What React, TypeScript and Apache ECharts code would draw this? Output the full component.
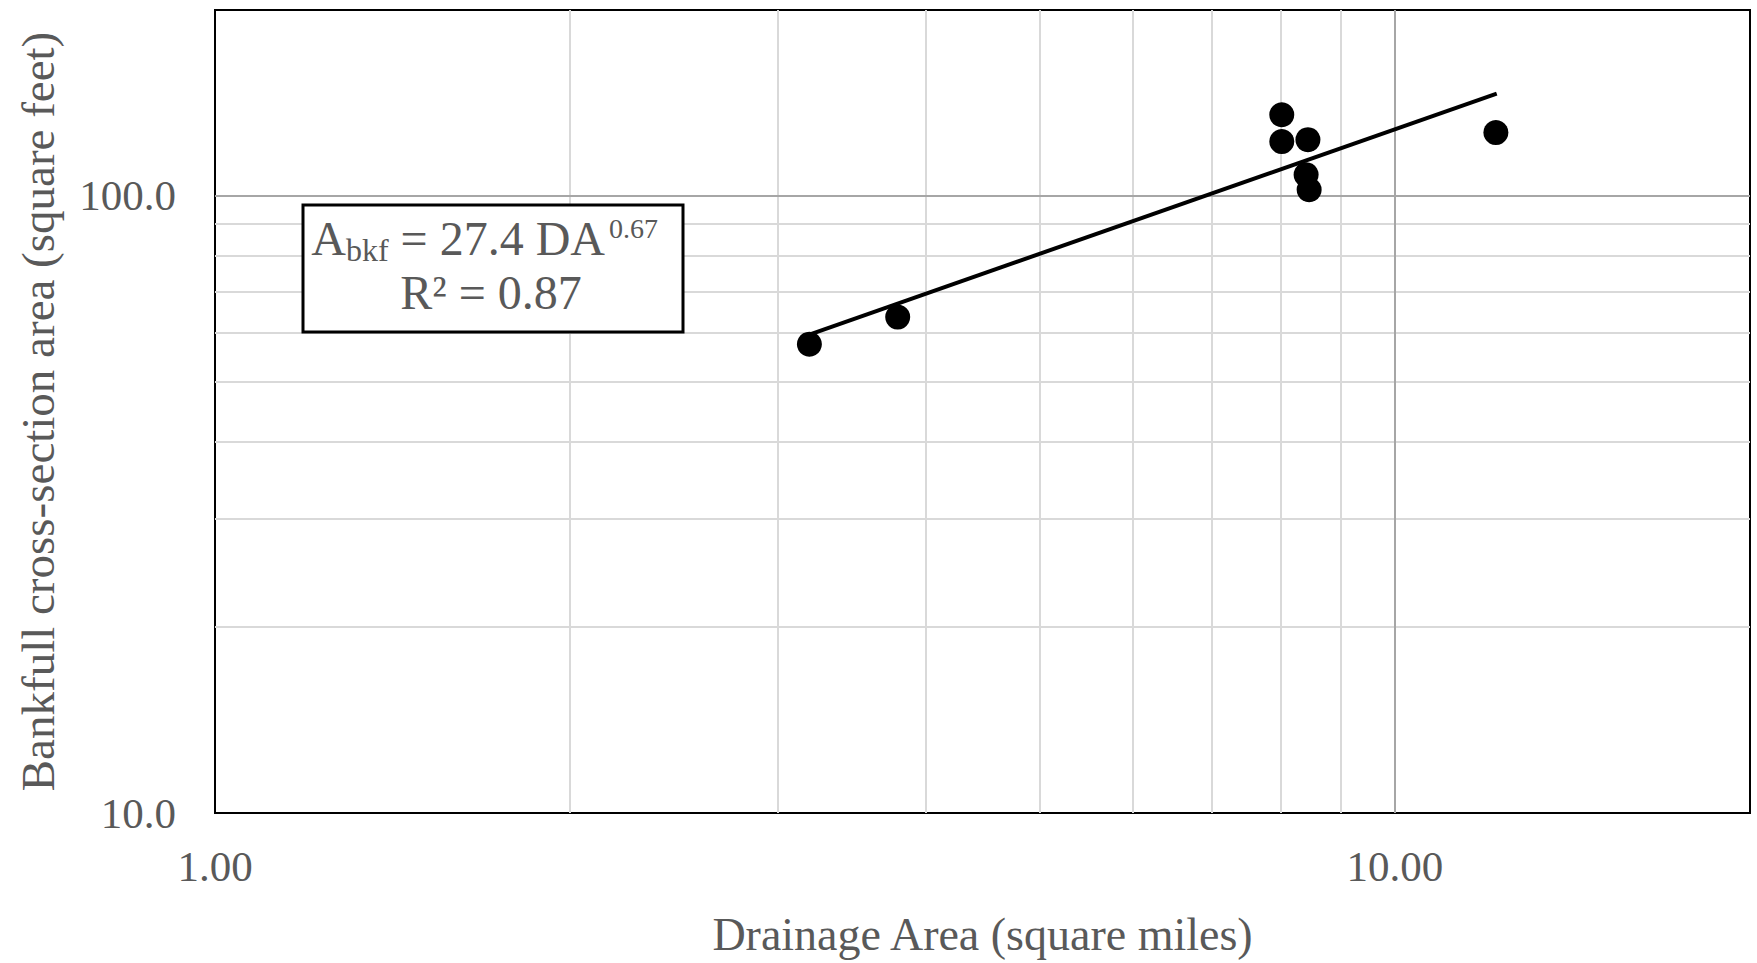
import React, { useEffect, useRef } from "react";
import * as echarts from "echarts";

// Data
const drainageArea = [3.19, 3.79, 8.02, 8.02, 8.44, 8.41, 8.46, 12.18];
const bankfullArea = [57.5, 63.6, 135.3, 122.4, 123.3, 108.2, 102.3, 126.6];
// Power-law trend line endpoints (A = 27.4 DA^0.67)
const trendX = [3.19, 12.2];
const trendY = [59.6, 146.4];
// Grid lines
const xMajorGrid = [10];
const xMinorGrid = [2, 3, 4, 5, 6, 7, 8, 9];
const yMajorGrid = [100];
const yMinorGrid = [20, 30, 40, 50, 60, 70, 80, 90];

const FONT = "Liberation Serif";
const TXT = "#595959";

function isPow10(v: number) {
  const l = Math.log10(v);
  return Math.abs(l - Math.round(l)) < 1e-6;
}

export default function App() {
  const ref = useRef<HTMLDivElement>(null);
  useEffect(() => {
    if (!ref.current) return;
    const chart = echarts.init(ref.current, null, { renderer: "svg" });
    const minorStyle = { color: "#d9d9d9", width: 2, type: "solid" };
    const majorStyle = { color: "#a6a6a6", width: 2, type: "solid" };
    const gridLines = [
      ...xMinorGrid.map((v) => ({ xAxis: v, lineStyle: minorStyle })),
      ...yMinorGrid.map((v) => ({ yAxis: v, lineStyle: minorStyle })),
      ...xMajorGrid.map((v) => ({ xAxis: v, lineStyle: majorStyle })),
      ...yMajorGrid.map((v) => ({ yAxis: v, lineStyle: majorStyle })),
    ];
    chart.setOption({
      animation: false,
      backgroundColor: "#fff",
      grid: {
        left: 215,
        right: 7,
        top: 10,
        bottom: 150,
        show: true,
        borderColor: "#000",
        borderWidth: 2,
        backgroundColor: "transparent",
      },
      xAxis: {
        type: "log",
        logBase: 10,
        min: 1,
        max: 20,
        name: "Drainage Area (square miles)",
        nameLocation: "middle",
        nameGap: 98,
        nameTextStyle: { fontFamily: FONT, fontSize: 46, color: TXT },
        axisLine: { show: false },
        axisTick: { show: false },
        splitLine: { show: false },
        axisLabel: {
          fontFamily: FONT,
          fontSize: 43,
          color: TXT,
          margin: 32,
          showMaxLabel: false,
          formatter: (v: number) => (isPow10(v) ? v.toFixed(2) : ""),
        },
      },
      yAxis: {
        type: "log",
        logBase: 10,
        min: 10,
        max: 200,
        name: "Bankfull cross-section area (square feet)",
        nameLocation: "middle",
        nameRotate: 90,
        nameGap: 154,
        nameTextStyle: { fontFamily: FONT, fontSize: 47, color: TXT },
        axisLine: { show: false },
        axisTick: { show: false },
        splitLine: { show: false },
        axisLabel: {
          fontFamily: FONT,
          fontSize: 43,
          color: TXT,
          margin: 39,
          showMaxLabel: false,
          formatter: (v: number) => (isPow10(v) ? v.toFixed(1) : ""),
        },
      },
      series: [
        {
          type: "scatter",
          name: "Sites",
          data: drainageArea.map((x, i) => [x, bankfullArea[i]]),
          symbol: "circle",
          symbolSize: 25,
          itemStyle: { color: "#000", opacity: 1 },
          z: 3,
          silent: true,
          markLine: {
            z: 1,
            silent: true,
            symbol: ["none", "none"],
            label: { show: false },
            emphasis: { disabled: true },
            animation: false,
            data: gridLines,
          },
        },
        {
          type: "line",
          name: "Trend",
          data: trendX.map((x, i) => [x, trendY[i]]),
          showSymbol: false,
          symbol: "none",
          lineStyle: { color: "#000", width: 4 },
          z: 4,
          silent: true,
        },
      ],
      graphic: [
        {
          type: "rect",
          z: 10,
          shape: { x: 303, y: 205, width: 380, height: 127 },
          style: { fill: "#fff", stroke: "#000", lineWidth: 3 },
        },
        {
          type: "text",
          z: 11,
          x: 605,
          y: 211.5,
          style: {
            text: "{a|A}{s|bkf}{a| = 27.4 DA}",
            textAlign: "right",
            textVerticalAlign: "top",
            fill: TXT,
            rich: {
              a: { fontFamily: FONT, fontSize: 48, lineHeight: 54, fill: TXT, color: TXT },
              s: { fontFamily: FONT, fontSize: 32, lineHeight: 20, verticalAlign: "bottom", fill: TXT, color: TXT },
            },
          },
        },
        {
          type: "text",
          z: 11,
          x: 609,
          y: 228.5,
          style: {
            text: "0.67",
            textAlign: "left",
            textVerticalAlign: "middle",
            fontFamily: FONT,
            fontSize: 28,
            fill: TXT,
          },
        },
        {
          type: "text",
          z: 11,
          x: 491,
          y: 292.5,
          style: {
            text: "R² = 0.87",
            textAlign: "center",
            textVerticalAlign: "middle",
            fontFamily: FONT,
            fontSize: 48,
            fill: TXT,
          },
        },
      ],
    });
    return () => chart.dispose();
  }, []);
  return (
    <div
      ref={ref}
      style={{ position: "absolute", left: 0, top: 0, width: 1757, height: 963, background: "#fff" }}
    />
  );
}
